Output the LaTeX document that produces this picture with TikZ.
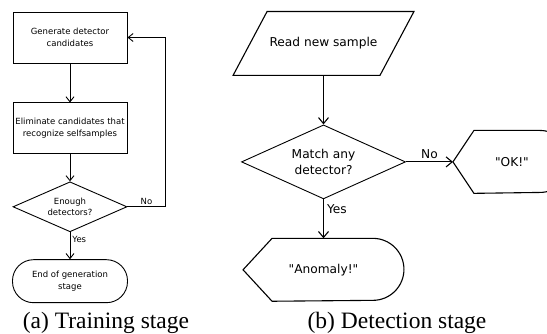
\documentclass[tikz,border=0pt]{standalone}
\usepackage{fontspec}
\setmainfont{Liberation Serif}
\newfontfamily\chartfont{DejaVu Sans}
\usepackage{tikz}
\usetikzlibrary{positioning,arrows.meta,shapes.geometric}
\newcommand{\smallchart}{\chartfont\fontsize{8.5}{11.5}\selectfont}
\newcommand{\bigchart}{\chartfont\fontsize{12.2}{16}\selectfont}

\begin{document}
\begin{tikzpicture}[x=1pt,y=1pt,line width=0.9pt,
    proc/.style={draw,inner sep=1pt,align=center,font=\smallchart,
                 minimum width=114pt,minimum height=51pt},
    test/.style={draw,diamond,inner sep=0pt,align=center,font=\smallchart,
                 aspect=2.28,minimum width=114pt,minimum height=50pt},
    term/.style={draw,rounded corners=21pt,inner sep=1pt,align=center,font=\smallchart,
                 minimum width=115pt,minimum height=43pt},
    io/.style={inner sep=0pt,font=\bigchart,minimum width=180pt,minimum height=63pt},
    ask/.style={draw,diamond,inner sep=0pt,align=center,font=\bigchart,
                aspect=2.2,minimum width=164pt,minimum height=74pt},
    disp/.style={inner sep=0pt,font=\bigchart,minimum height=62pt},
    outline/.style={line width=1.1pt},
    arr/.style={-{Straight Barb[length=5pt,width=8pt]}},
    arrb/.style={-{Straight Barb[length=6pt,width=10pt]},line width=1.1pt},
    lbl/.style={font=\smallchart,inner sep=2pt},
    lblb/.style={font=\bigchart,inner sep=3pt},
    subcap/.style={font=\fontsize{23.5}{26}\selectfont,anchor=base,inner sep=0pt},
  ]
  \useasboundingbox (0,0) rectangle (547,334);

  % (a) training
  \node[proc] (gen) at (70,296.5) {Generate detector\\candidates};
  \node[proc,below=39pt of gen] (elim) {Eliminate candidates that\\recognize selfsamples};
  \node[test,below=27pt of elim] (enough) {Enough\\detectors?};
  \node[term,below=27pt of enough] (stop) {End of generation\\stage};

  \draw[arr] (gen) -- (elim);
  \draw[arr] (elim) -- (enough);
  \draw[arr] (enough) -- node[lbl,right,pos=0.25]{Yes} (stop);
  \draw[arr] (enough.east) -- node[lbl,above]{No} ++(38,0) |- (gen.east);

  % (b) detection
  \node[io] (read) at (323.5,290.5) {Read new sample};
  \node[ask,below=49pt of read] (match) {Match any\\detector?};
  \node[disp,right=47pt of match,minimum width=117pt] (ok) {"OK!"};
  \node[disp,below=39pt of match,minimum width=160pt] (anom) {"Anomaly!"};

  \draw[outline] (read.south west) -- ([xshift=34pt]read.north west) -- (read.north east)
    -- ([xshift=-34pt]read.south east) -- cycle;
  \draw[outline] (ok.west) -- ([xshift=21pt]ok.north west) -- ([xshift=-31pt]ok.north east)
    arc[start angle=90,end angle=-90,radius=31pt] -- ([xshift=21pt]ok.south west) -- cycle;
  \draw[outline] (anom.west) -- ([xshift=29pt]anom.north west) -- ([xshift=-31pt]anom.north east)
    arc[start angle=90,end angle=-90,radius=31pt] -- ([xshift=29pt]anom.south west) -- cycle;

  \draw[arrb] (read) -- (match);
  \draw[arrb] (match) -- node[lblb,above]{No} (ok);
  \draw[arrb] (match) -- node[lblb,right,pos=0.25]{Yes} (anom);

  \node[subcap] (capa) at (106,5) {(a) Training stage};
  \node[subcap] (capb) at (397,5) {(b) Detection stage};
\end{tikzpicture}
\end{document}
